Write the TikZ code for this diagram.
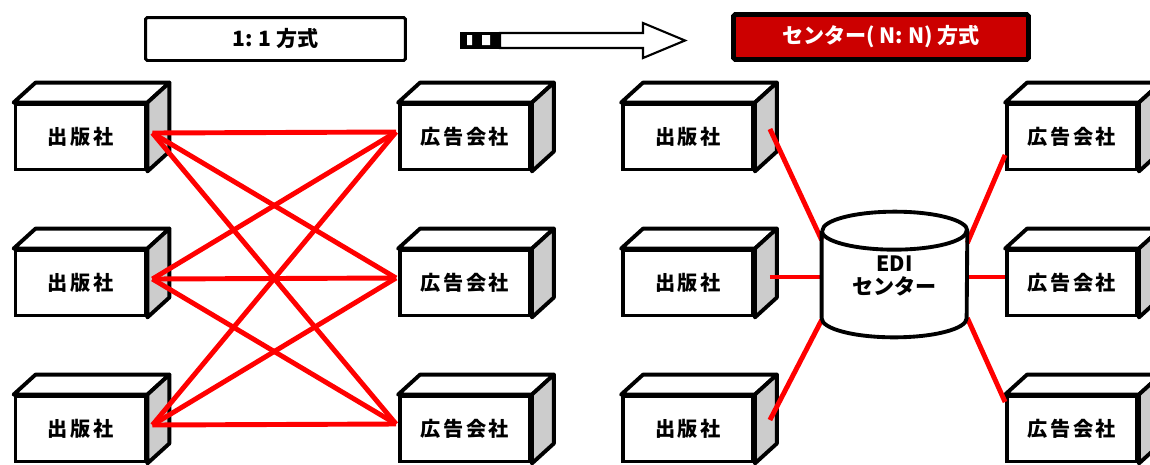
\documentclass[tikz,border=0pt]{standalone}
\usepackage{fontspec}
\setmainfont{Noto Sans CJK JP}
\newfontfamily\spacedfont{Noto Sans CJK JP}[LetterSpace=12]
\usepackage{tikz}
\usetikzlibrary{positioning}

\definecolor{titlered}{RGB}{204,0,0}
\tikzset{
	box/.style={draw, line width=2.2pt, fill=white, minimum width=2.6cm, minimum height=1.3cm, font=\fontsize{11.5pt}{12pt}\spacedfont\bfseries},
	face/.style={draw, line width=2.2pt, line join=round},
	link/.style={red, line width=2.8pt},
}

\begin{document}
\begin{tikzpicture}[x=0.02cm, y=-0.02cm]
	\useasboundingbox (0,0) rectangle (1150,464);

	% titles
	\node[draw, line width=1.7pt, rounded corners=1pt, minimum width=5.2cm, minimum height=0.86cm, font=\fontsize{12pt}{12pt}\selectfont\bfseries] (t1) at (275.5,39) {1: 1 方式};
	\node[draw, fill=titlered, text=white, line width=2.8pt, rounded corners=1pt, minimum width=5.9cm, minimum height=0.9cm, font=\fontsize{12pt}{12pt}\selectfont\bfseries] (t2) at (881,37) {センター( N: N) 方式};

	% block arrow between the titles
	\fill (460,32) rectangle (500,49);
	\fill[white] (467,35) rectangle (472,45) (482,35) rectangle (490,45);
	\draw[line width=1.2pt, fill=white] (500,33) -- (643,33) -- (643,23) -- (685,40.5) -- (643,58) -- (643,48) -- (500,48) -- cycle;

	% boxes
	\foreach \i/\y in {1/137,2/283,3/429}{
		\node[box] (p\i) at (80.5,\y) {出版社};
		\node[box] (a\i) at (465,\y) {広告会社};
		\node[box] (q\i) at (688,\y) {出版社};
		\node[box] (b\i) at (1072,\y) {広告会社};
	}
	\foreach \n in {p1,p2,p3,a1,a2,a3,q1,q2,q3,b1,b2,b3}{
		\draw[face, fill=white] (\n.north west) -- ++(22,-20) -- ([shift={(22,-20)}]\n.north east) -- (\n.north east) -- cycle;
		\draw[face, fill=gray!40] (\n.north east) -- ++(22,-20) -- ([shift={(22,-20)}]\n.south east) -- (\n.south east) -- cycle;
	}

	% 1:1
	\foreach \i in {1,2,3}
		\foreach \j in {1,2,3}
			\draw[link] ([shift={(5,-4)}]p\i.east) -- ([shift={(-2,-5)}]a\j.west);

	% center
	\node[minimum width=2.9cm, minimum height=1.74cm, align=center, font=\fontsize{12pt}{13.5pt}\selectfont\bfseries] (edi) at (894.5,276) {EDI\\センター};
	\draw[link] ([shift={(15,-8)}]q1.east) -- ([shift={(0,-36)}]edi.west);
	\draw[link] ([shift={(15,-6)}]q2.east) -- ([shift={(0,1)}]edi.west);
	\draw[link] ([shift={(15,-9)}]q3.east) -- ([shift={(0,44)}]edi.west);
	\draw[link] ([shift={(0,-33)}]edi.east) -- ([shift={(0,18)}]b1.west);
	\draw[link] ([shift={(0,1)}]edi.east) -- ([shift={(0,-6)}]b2.west);
	\draw[link] ([shift={(0,42)}]edi.east) -- ([shift={(0,-27)}]b3.west);
	\draw[face] ([shift={(0,-1.5)}]edi.north west) -- ([shift={(0,-1.5)}]edi.south west) arc[start angle=180, end angle=360, x radius=1.45cm, y radius=0.38cm] -- ([shift={(0,-1.5)}]edi.north east) arc[start angle=0, end angle=180, x radius=1.45cm, y radius=0.38cm];
	\draw[face] ([shift={(0,-1.5)}]edi.north west) arc[start angle=180, end angle=360, x radius=1.45cm, y radius=0.38cm];
\end{tikzpicture}
\end{document}
